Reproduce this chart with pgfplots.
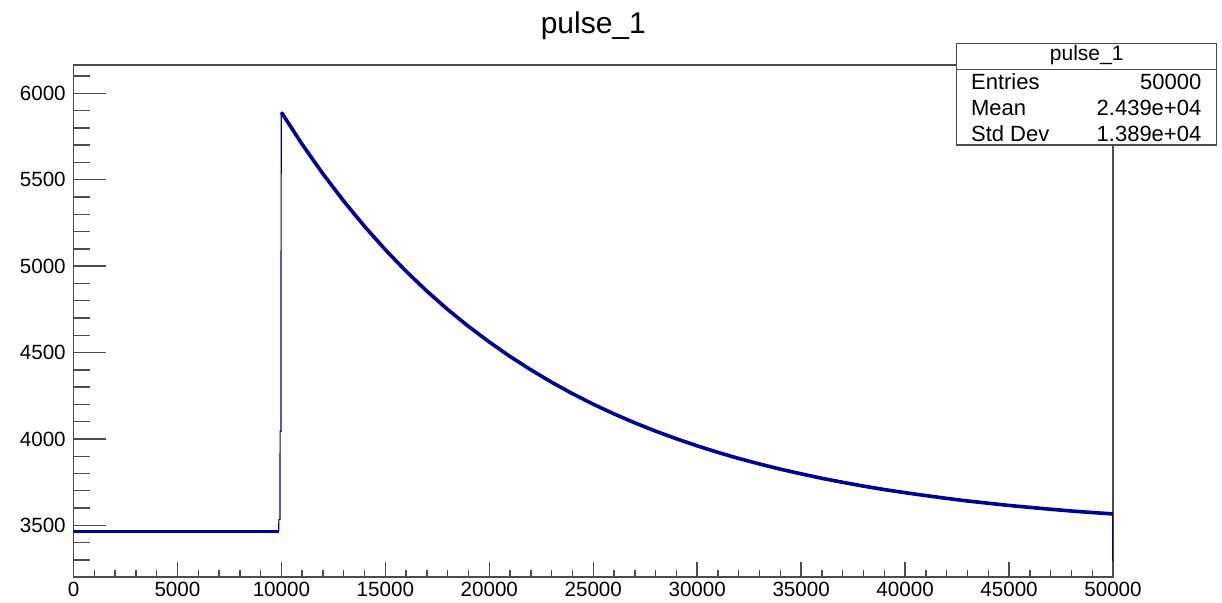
\documentclass[border=0pt]{standalone}
\usepackage{fontspec}
\setmainfont{Liberation Sans}
\usepackage{pgfplots}
\pgfplotsset{compat=1.18}
\definecolor{histblue}{rgb}{0,0,0.6}
\definecolor{framegray}{gray}{0.3}

\begin{document}
\begin{tikzpicture}
\useasboundingbox (-36.75pt,-12.5pt) rectangle (574.25pt,288.5pt);

% frame, y axis and the pulse itself
\begin{axis}[
  at={(0pt,0pt)}, anchor=south west,
  scale only axis, width=519.75pt, height=256pt,
  xmin=0, xmax=50000, ymin=3201, ymax=6164,
  axis line style={framegray, line width=0.7pt},
  tick align=inside, ytick pos=left,
  xtick=\empty,
  ytick={3500,4000,4500,5000,5500,6000},
  yticklabels={3500,4000,4500,5000,5500,6000},
  minor ytick={3300,3400,3600,3700,3800,3900,4100,4200,4300,4400,4600,4700,4800,4900,5100,5200,5300,5400,5600,5700,5800,5900,6100},
  major tick length=16pt, minor tick length=8.3pt,
  tick style={framegray, line width=0.7pt},
  yticklabel style={inner sep=0pt, xshift=-3.7pt, font=\fontsize{10.3}{12}\selectfont},
]
% pedestal before the pulse
\addplot[histblue, line width=1.8pt, line join=round] coordinates {
  (0,3465) (9870,3465)
};
% leading edge
\addplot[histblue, line width=0.6pt] coordinates {
  (9870,3465) (9880,3533) (9930,3533) (9940,4044) (9980,4044) (9990,5890) (10000,5890)
};
% exponential tail
\addplot[histblue, line width=1.8pt, line join=round] coordinates {
  (10000,5890) (11000,5705) (12000,5534) (13000,5376) (14000,5230)
  (15000,5095) (16000,4970) (17000,4855) (18000,4749) (19000,4651)
  (20000,4561) (21000,4477) (22000,4400) (23000,4328) (24000,4262)
  (25000,4201) (26000,4145) (27000,4093) (28000,4045) (29000,4001)
  (30000,3960) (31000,3922) (32000,3887) (33000,3855) (34000,3825)
  (35000,3798) (36000,3772) (37000,3749) (38000,3727) (39000,3707)
  (40000,3689) (41000,3672) (42000,3656) (43000,3641) (44000,3628)
  (45000,3615) (46000,3604) (47000,3593) (48000,3583) (49000,3574)
  (50000,3566)
};
% last bin
\addplot[histblue, line width=0.6pt] coordinates {
  (50000,3566) (50000,3292)
};
\end{axis}

% x axis ticks and labels
\begin{axis}[
  at={(0pt,0pt)}, anchor=south west,
  scale only axis, width=519.75pt, height=256pt,
  xmin=0, xmax=50000, ymin=3201, ymax=6164,
  hide y axis, axis x line*=bottom,
  axis line style={framegray, line width=0.7pt, -},
  tick align=inside, xtick pos=left,
  xtick={0,5000,10000,15000,20000,25000,30000,35000,40000,45000,50000},
  xticklabels={0,5000,10000,15000,20000,25000,30000,35000,40000,45000,50000},
  minor xtick={1000,2000,3000,4000,6000,7000,8000,9000,11000,12000,13000,14000,16000,17000,18000,19000,21000,22000,23000,24000,26000,27000,28000,29000,31000,32000,33000,34000,36000,37000,38000,39000,41000,42000,43000,44000,46000,47000,48000,49000},
  major tick length=7.5pt, minor tick length=3.4pt,
  tick style={framegray, line width=0.7pt},
  xticklabel style={inner sep=0pt, yshift=-2.4pt, font=\fontsize{10.3}{12}\selectfont},
]
\end{axis}

% title
\node[anchor=base, font=\fontsize{15}{18}\selectfont] at (259.9pt,272pt) {pulse\_1};

% statistics box
\draw[framegray, line width=0.7pt, fill=white] (441.6pt,216pt) rectangle (571.6pt,266.85pt);
\draw[framegray, line width=0.7pt] (441.6pt,253.85pt) -- (571.6pt,253.85pt);
\node[anchor=base, inner sep=0pt, font=\fontsize{10.5}{12}\selectfont] at (506.6pt,258.3pt) {pulse\_1};
\begin{scope}[every node/.style={inner sep=0pt, font=\fontsize{11}{13}\selectfont}]
\node[anchor=base west] at (448.6pt,243.85pt) {Entries};
\node[anchor=base east] at (564.1pt,243.85pt) {50000};
\node[anchor=base west] at (448.6pt,230.75pt) {Mean};
\node[anchor=base east] at (564.1pt,230.75pt) {2.439e+04};
\node[anchor=base west] at (448.6pt,217.8pt) {Std Dev};
\node[anchor=base east] at (564.1pt,217.8pt) {1.389e+04};
\end{scope}
\end{tikzpicture}
\end{document}
